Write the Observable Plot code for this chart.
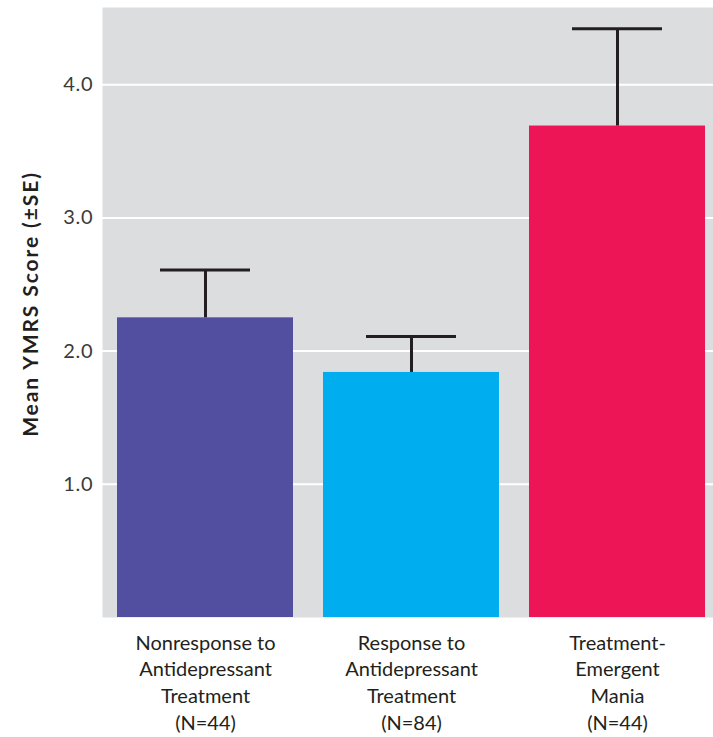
<!DOCTYPE html>
<html><head><meta charset="utf-8">
<script src="https://cdn.jsdelivr.net/npm/d3@7"></script>
<script src="https://cdn.jsdelivr.net/npm/@observablehq/plot@0.6"></script>
<style>
body{margin:0;background:#fff;}
svg{display:block;}
g[aria-label="text"] text{letter-spacing:1.9px;}
g[aria-label="y-axis tick label"] text{letter-spacing:0.8px;}
</style>
</head><body><div id="chart"></div>
<script>
const groups = ["Nonresponse", "Response", "Mania"];
const groupLabels = [
  "Nonresponse to\nAntidepressant\nTreatment\n(N=44)",
  "Response to\nAntidepressant\nTreatment\n(N=84)",
  "Treatment-\nEmergent\nMania\n(N=44)"
];
const means = [2.25, 1.84, 3.69];
const se = [0.36, 0.27, 0.73];
const colors = ["#524fa0", "#00aeef", "#ee1556"];
const yTicks = [1, 2, 3, 4];
const yLabel = "Mean YMRS Score (±SE)";

const data = groups.map((g, i) => ({group: g, mean: means[i], upper: means[i] + se[i]}));

const chart = Plot.plot({
  width: 713,
  height: 737,
  marginLeft: 102,
  marginRight: 0,
  marginTop: 7,
  marginBottom: 120,
  style: {fontFamily: "Lato, sans-serif", background: "#fff"},
  x: {domain: groups, paddingInner: 0.1456, paddingOuter: 0.0728, insetRight: -7},
  y: {domain: [0, 4.58]},
  color: {domain: groups, range: colors},
  marks: [
    Plot.frame({fill: "#dcdddf", stroke: null}),
    Plot.gridY(yTicks, {stroke: "#ffffff", strokeOpacity: 1, strokeWidth: 2}),
    Plot.barY(data, {x: "group", y: "mean", fill: "group"}),
    Plot.ruleX(data, {x: "group", y1: "mean", y2: "upper", stroke: "#231f20", strokeWidth: 3}),
    Plot.tickY(data, {x: "group", y: "upper", stroke: "#231f20", strokeWidth: 3, insetLeft: 43, insetRight: 43}),
    Plot.axisY(yTicks, {tickSize: 0, tickPadding: 9, tickFormat: d3.format(".1f"), fontSize: 20, fill: "#3a3a3a", label: null}),
    Plot.axisX({tickSize: 0, tickPadding: 13, tickFormat: d => groupLabels[groups.indexOf(d)], fontSize: 20, lineHeight: 1.34, fill: "#231f20", label: null}),
    Plot.text([yLabel], {frameAnchor: "left", text: d => d, textAnchor: "middle", lineAnchor: "middle", rotate: -90, dx: -71, dy: -8.5, fontSize: 21, fontWeight: 700, fill: "#231f20"})
  ]
});
document.getElementById("chart").appendChild(chart);
</script>
</body></html>
